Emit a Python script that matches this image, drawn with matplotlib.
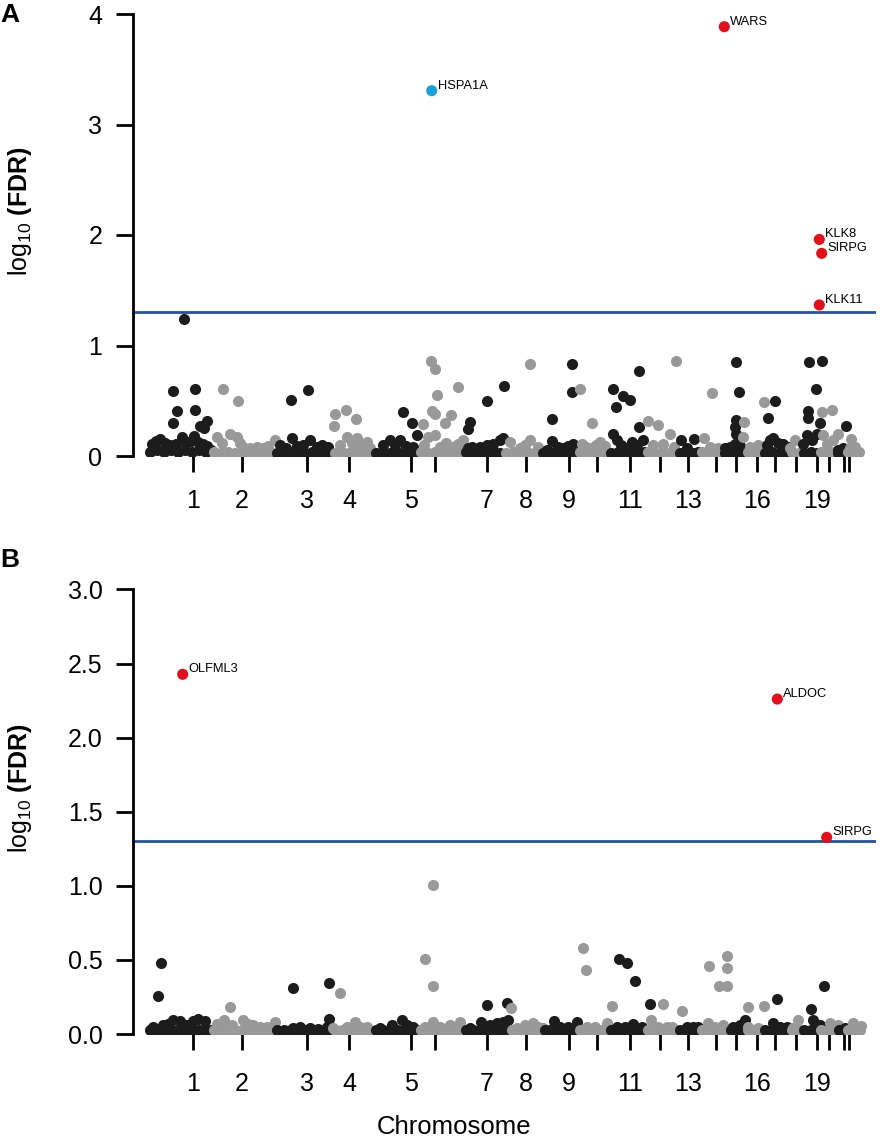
import numpy as np
import matplotlib
matplotlib.use("Agg")
import matplotlib.pyplot as plt

plt.rcParams['font.family'] = ['Liberation Sans', 'DejaVu Sans']
plt.rcParams['mathtext.fontset'] = 'custom'
plt.rcParams['mathtext.rm'] = 'Liberation Sans'
plt.rcParams['mathtext.bf'] = 'Liberation Sans:bold'

# chromosome tick positions (genome index) and labels
chrom_ticks = [193, 242, 307, 349, 411, 435, 487, 526, 569, 597, 630, 660,
               688, 716, 736, 757, 775, 796, 817, 829, 844, 849]
chrom_labels = ['1', '2', '3', '4', '5', '', '7', '8', '9', '', '11', '',
                '13', '', '', '16', '', '', '19', '', '', '']

# panel A: positions / -log10(FDR) per chromosome
a_pos = [
    [150, 157, 164, 171, 178, 185, 192, 199, 206, 211, 152, 156, 160, 165, 170, 176, 182, 186, 191, 194, 198, 203, 207,
     172.7, 195, 176.7, 195, 173.3, 206.7, 200, 204, 184],
    [214, 221, 228, 235, 242, 249, 256, 263, 270, 216.7, 222, 230, 236.7, 240, 243, 250, 256.7, 263, 268, 275, 222.7, 237.7],
    [277, 284, 291, 298, 305, 312, 319, 326, 330, 280, 286, 291.7, 297, 303.3, 310, 316.7, 322, 328, 291, 308.3],
    [335, 342, 349, 356, 363, 369, 340, 346.7, 352, 356.7, 362, 366.7, 370, 334, 335, 345.7, 355.7],
    [376, 383, 390, 397, 404, 411, 417, 383.3, 390, 395, 400, 406, 413.3, 403.3, 411.7, 417.3],
    [421, 428, 435, 442, 449, 456, 462, 424, 428.3, 435, 440, 446, 453.3, 458, 463.3,
     431, 435, 436.7, 431.7, 435, 458.3, 450.7, 445, 423.3],
    [466, 473, 480, 487, 494, 500, 468.3, 471.7, 480, 487, 493.3, 500, 503.3, 470, 467.7, 487, 504.3],
    [506, 513, 520, 527, 534, 539, 510, 520, 525, 530, 538.3, 530],
    [543, 550, 557, 564, 571, 576, 546.7, 552.3, 558, 563.3, 568, 573.3, 571.7, 571.7, 552.3],
    [580, 587, 594, 601, 606, 581.7, 586, 591.7, 596, 600, 605, 580, 591.7],
    [611, 618, 625, 632, 639, 644, 612.7, 616.7, 621, 626.7, 631.7, 637, 643.3, 613.3, 615.7, 623.3, 630, 639.3, 639],
    [648, 655, 662, 669, 675, 653.3, 663.3, 670, 674, 648.3, 658.3, 676],
    [680, 687, 694, 698, 680.7, 686.7, 694],
    [702, 709, 716, 721, 704, 710, 718.3, 712.3],
    [725, 732, 739, 744, 725, 730, 735, 740, 736, 739.3, 736, 735, 736],
    [748, 755, 761, 743.3, 750, 758.3, 744, 764.3],
    [765, 772, 779, 786, 766.7, 770, 773.3, 778, 783.3, 788, 775, 767.7],
    [792, 799, 790, 795],
    [804, 811, 817, 803.3, 806.7, 811.7, 816.7, 809, 821.7, 816, 808.3, 808.3, 820],
    [821, 828, 834, 823.3, 826.7, 833.3, 837.7, 821.7, 832.3],
    [838, 843, 838.3, 843.3, 846],
    [848, 855, 859, 850.7, 855, 850],
]
a_val = [
    [.04, .05, .04, .05, .04, .05, .04, .05, .04, .05, .11, .14, .15, .12, .10, .11, .17, .12, .14, .18, .13, .11, .09,
     .59, .61, .41, .42, .30, .32, .27, .25, 1.237],
    [.04, .03, .04, .03, .04, .03, .04, .03, .04, .175, .12, .20, .175, .12, .08, .07, .08, .07, .09, .145, .61, .50],
    [.03, .04, .03, .04, .03, .04, .03, .04, .03, .10, .07, .16, .09, .10, .145, .085, .10, .085, .51, .60],
    [.03, .04, .03, .04, .03, .04, .10, .175, .12, .16, .10, .13, .07, .27, .38, .42, .335],
    [.03, .04, .03, .04, .03, .04, .03, .10, .145, .10, .145, .09, .085, .40, .30, .19],
    [.04, .03, .04, .03, .04, .03, .04, .10, .175, .19, .08, .12, .085, .11, .145,
     .86, .785, .55, .41, .38, .62, .37, .295, .29],
    [.04, .03, .04, .03, .04, .03, .07, .085, .085, .10, .11, .145, .16, .31, .245, .50, .63],
    [.03, .04, .03, .04, .03, .04, .13, .07, .10, .145, .085, .83],
    [.03, .04, .03, .04, .03, .04, .055, .135, .08, .07, .09, .11, .83, .576, .335],
    [.04, .03, .04, .03, .04, .11, .08, .07, .10, .13, .09, .61, .295],
    [.03, .04, .03, .04, .03, .04, .196, .145, .10, .07, .13, .10, .145, .606, .446, .546, .507, .77, .26],
    [.04, .03, .04, .03, .04, .10, .11, .196, .08, .32, .28, .86],
    [.03, .04, .03, .04, .145, .07, .15],
    [.04, .03, .04, .03, .16, .085, .07, .57],
    [.03, .04, .03, .04, .07, .085, .11, .09, .85, .576, .33, .265, .196],
    [.04, .03, .04, .175, .085, .10, .31, .49],
    [.03, .04, .03, .04, .10, .145, .16, .12, .11, .08, .50, .34],
    [.04, .03, .07, .145],
    [.03, .04, .03, .11, .19, .145, .2, .85, .86, .61, .41, .34, .295],
    [.04, .03, .04, .19, .11, .145, .2, .40, .416],
    [.03, .04, .055, .07, .275],
    [.04, .03, .04, .15, .085, .07],
]
a_genes = ['WARS', 'HSPA1A', 'KLK8', 'SIRPG', 'KLK11']
a_gene_pos = [724.3, 431.7, 819.3, 821.7, 819.3]
a_gene_val = [3.885, 3.306, 1.96, 1.834, 1.367]
a_gene_col = ['#e3101c', '#1ba0de', '#e3101c', '#e3101c', '#e3101c']

# panel B
b_pos = [
    [150, 157, 164, 171, 178, 185, 192, 199, 206, 211, 153.3, 163.3, 168, 173.3, 180, 186, 193, 198.3, 205, 160.7, 158],
    [214, 221, 228, 235, 242, 249, 256, 263, 270, 216.7, 224, 232, 243.3, 248, 253.3, 260, 266.7, 275, 230],
    [277, 284, 291, 298, 305, 312, 319, 326, 331, 293.3, 300, 310, 318, 327, 292.7, 329.3, 329.3],
    [335, 342, 349, 356, 363, 369, 333.3, 346.7, 355, 360, 366.7, 340],
    [376, 383, 390, 397, 404, 411, 417, 380, 391.7, 401.7, 407, 413.3],
    [421, 428, 435, 442, 449, 456, 462, 425, 433.3, 440, 446.7, 450, 460, 432.7, 425, 432.7],
    [466, 473, 480, 487, 494, 500, 506, 470, 480.7, 490, 496.7, 503, 508.3, 486.7, 506.7],
    [512, 517, 524, 531, 538, 516.7, 525, 532.7, 538, 543.3, 510.7],
    [545, 550, 557, 564, 571, 576, 554.3, 560, 568.3, 576.7],
    [580, 587, 594, 601, 606, 586.7, 595, 606.7, 582.7, 585.7, 612.3],
    [611, 618, 625, 632, 639, 644, 616.7, 625, 632.7, 641.7, 619, 627.3, 635, 650],
    [648, 655, 662, 669, 675, 650.7, 658, 666.7, 672, 663.3, 682.3],
    [680, 687, 694, 698, 686.7, 693, 698.3],
    [702, 709, 716, 721, 727, 708.3, 715, 723.3, 708.7, 719.3, 727.3, 727.3, 727.3],
    [731, 736, 741, 745, 733.3, 740, 745],
    [748, 755, 761, 748.3, 758.3, 748.3, 764.3],
    [765, 772, 779, 786, 773.3, 780, 786.7, 777.3],
    [792, 799, 793.3, 798.3],
    [804, 811, 817, 813.3, 820, 811, 824.3],
    [821, 828, 834, 830, 838.3],
    [839, 843, 845],
    [848, 855, 860, 853.3, 860.7],
]
b_val = [
    [.025, .03, .025, .03, .025, .03, .025, .03, .025, .03, .05, .06, .07, .095, .085, .06, .09, .10, .085, .481, .256],
    [.03, .025, .03, .025, .03, .025, .03, .025, .03, .07, .095, .06, .095, .07, .06, .05, .05, .083, .184],
    [.025, .03, .025, .03, .025, .03, .025, .03, .025, .04, .045, .04, .035, .045, .308, .346, .10],
    [.03, .025, .03, .025, .03, .025, .04, .05, .083, .05, .05, .274],
    [.025, .03, .025, .03, .025, .03, .025, .04, .06, .095, .06, .05],
    [.03, .025, .03, .025, .03, .025, .03, .05, .083, .05, .04, .06, .083, 1.005, .506, .324],
    [.025, .03, .025, .03, .025, .03, .025, .04, .083, .06, .072, .08, .094, .196, .207],
    [.03, .025, .03, .025, .03, .04, .06, .076, .05, .04, .178],
    [.025, .03, .025, .03, .025, .03, .088, .05, .045, .083],
    [.03, .025, .03, .025, .03, .045, .05, .076, .578, .432, .189],
    [.025, .03, .025, .03, .025, .03, .045, .05, .067, .045, .504, .477, .358, .2],
    [.03, .025, .03, .025, .03, .094, .05, .045, .05, .2, .157],
    [.025, .03, .025, .03, .045, .05, .045],
    [.03, .025, .03, .025, .03, .072, .05, .06, .457, .326, .528, .445, .326],
    [.025, .03, .025, .03, .045, .06, .094],
    [.03, .025, .03, .05, .04, .184, .191],
    [.025, .03, .025, .03, .072, .05, .045, .236],
    [.03, .025, .04, .094],
    [.025, .03, .025, .094, .06, .169, .326],
    [.03, .025, .03, .072, .06],
    [.025, .03, .04],
    [.03, .025, .03, .072, .055],
]
b_genes = ['OLFML3', 'ALDOC', 'SIRPG']
b_gene_pos = [182.7, 777.3, 826.7]
b_gene_val = [2.427, 2.26, 1.327]
b_gene_col = ['#e3101c', '#e3101c', '#e3101c']

fdr_cut = -np.log10(0.05)
chrom_cols = ['#1c1c1c', '#999999']
msize = 64


def manhattan(ax, pos, val, genes, gpos, gval, gcol, ymax, yticks, ylabels, xpad):
    for i in range(len(pos)):
        ax.scatter(pos[i], val[i], s=msize, color=chrom_cols[i % 2], linewidths=0, zorder=2)
    ax.scatter(gpos, gval, s=msize, c=gcol, linewidths=0, zorder=3)
    for g, x, y in zip(genes, gpos, gval):
        ax.annotate(g, (x, y), xytext=(6, 5), textcoords='offset pixels',
                    ha='left', va='center', fontsize=9.3, zorder=4)
    ax.axhline(fdr_cut, color='#2352a3', lw=2.0, zorder=1)
    ax.set_xlim(133, 876)
    ax.set_ylim(0, ymax)
    for s in ['top', 'right', 'bottom']:
        ax.spines[s].set_visible(False)
    ax.spines['left'].set_linewidth(2.0)
    ax.spines['left'].set_bounds(yticks[0], yticks[-1])
    ax.set_yticks(yticks)
    ax.set_yticklabels(ylabels)
    ax.set_xticks(chrom_ticks)
    ax.set_xticklabels(chrom_labels)
    ax.tick_params(axis='y', direction='out', length=12, width=2.0, labelsize=18, pad=10)
    ax.tick_params(axis='x', direction='out', length=11.5, width=2.0, labelsize=18, pad=xpad)


fig = plt.figure(figsize=(8.86, 11.4), dpi=100)
W, H = 886.0, 1140.0
axA = fig.add_axes([133 / W, (H - 456) / H, 743 / W, 4.1 * 110.5 / H])
axB = fig.add_axes([133 / W, (H - 1034) / H, 743 / W, 3.05 * 148.2 / H])

manhattan(axA, a_pos, a_val, a_genes, a_gene_pos, a_gene_val, a_gene_col,
          4.1, [0, 1, 2, 3, 4], ['0', '1', '2', '3', '4'], 12)
manhattan(axB, b_pos, b_val, b_genes, b_gene_pos, b_gene_val, b_gene_col,
          3.05, [0, 0.5, 1.0, 1.5, 2.0, 2.5, 3.0], ['0.0', '0.5', '1.0', '1.5', '2.0', '2.5', '3.0'], 16)

ylab = r'log$_{10}$ $\mathbf{(FDR)}$'
fig.text(20 / W, 1 - 211 / H, ylab, rotation=90, ha='center', va='center', fontsize=18)
fig.text(20 / W, 1 - 788 / H, ylab, rotation=90, ha='center', va='center', fontsize=18)
fig.text(454 / W, 1 - 1127 / H, 'Chromosome', ha='center', va='center', fontsize=18.5)
fig.text(0 / W, 1 - 15 / H, 'A', ha='left', va='center', fontsize=19, fontweight='bold')
fig.text(0 / W, 1 - 560 / H, 'B', ha='left', va='center', fontsize=19, fontweight='bold')

fig.savefig('out.png', dpi=100)
